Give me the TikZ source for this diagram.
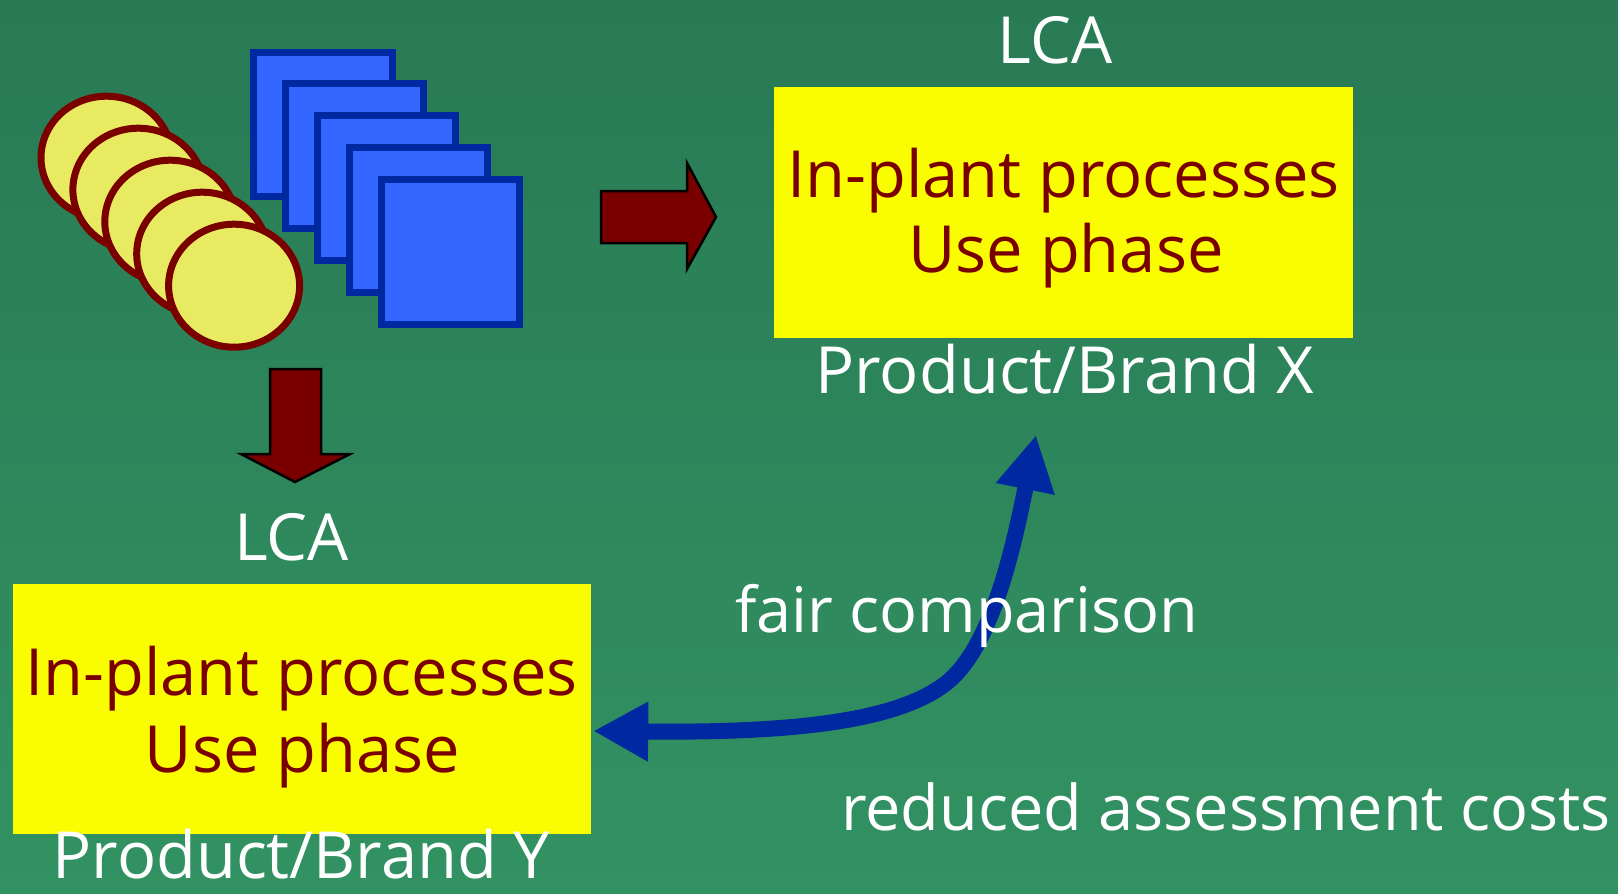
\documentclass[tikz,border=0pt]{standalone}
\usepackage{fontspec}
\setmainfont{Open Sans}
\usetikzlibrary{arrows.meta,calc}
\definecolor{bgtop}{RGB}{40,122,84}
\definecolor{bgbot}{RGB}{50,146,98}
\definecolor{boxyellow}{RGB}{250,252,0}
\definecolor{darkred}{RGB}{122,0,0}
\definecolor{coinfill}{RGB}{232,234,98}
\definecolor{cardfill}{RGB}{51,102,255}
\definecolor{carddraw}{RGB}{0,40,160}
\definecolor{linkblue}{RGB}{0,40,160}
\begin{document}
\begin{tikzpicture}[x=1pt,y=-1pt,
  txt/.style={text=white, inner sep=0pt, font=\fontsize{65}{76}\selectfont},
  boxtxt/.style={text=darkred, inner sep=0pt, anchor=base, font=\fontsize{65}{76}\selectfont},
  ybox/.style={fill=boxyellow, draw=none, inner sep=0pt},
  coin/.style={fill=coinfill, draw=darkred, line width=7pt},
  card/.style={fill=cardfill, draw=carddraw, line width=7pt, line join=miter},
  blockarrow/.style={fill=darkred, draw=black, line width=2.5pt, line join=miter},
  link/.style={draw=linkblue, line width=16pt,
    {Triangle[length=55pt,width=56pt]}-{Triangle[length=55pt,width=56pt]}}]

% background
\useasboundingbox (0,0) rectangle (1618,894);
\shade[top color=bgtop, bottom color=bgbot] (0,0) rectangle (1618,894);

% stack of coins
\foreach \i in {0,...,4}
  \draw[coin] (106.5+31.9*\i, 157.7+32*\i) ellipse [x radius=65.5pt, y radius=61.5pt];

% stack of cards
\foreach \i in {0,...,4}
  \draw[card] (253.5+31.9*\i, 52+31.9*\i) rectangle (392+31.9*\i, 196.5+31.9*\i);

% block arrows
\draw[blockarrow] (601,191) -- (687,191) -- (687,163) -- (716,217) -- (687,269)
  -- (687,243) -- (601,243) -- cycle;
\draw[blockarrow] (270,369) -- (321,369) -- (321,454) -- (350,454) -- (295,482)
  -- (241,454) -- (270,454) -- cycle;

% assessment boxes
\node[ybox, minimum width=579pt, minimum height=251pt] (boxX) at (1063.5,212.5) {};
\node[ybox, minimum width=578pt, minimum height=250pt] (boxY) at (301.5,709) {};

% labels, brand X
\node[txt, anchor=base] (lcaX) at (1055,63) {LCA};
\node[boxtxt] (inX) at (1063.5,197) {In-plant processes};
\node[boxtxt] (useX) at (1066,272) {Use phase};
\node[txt, anchor=base] (prodX) at (1065,393) {Product/Brand X};

% labels, brand Y
\node[txt, anchor=base] (lcaY) at (291.6,560) {LCA};
\node[boxtxt] (inY) at (301.5,695) {In-plant processes};
\node[boxtxt] (useY) at (302.5,772) {Use phase};
\node[txt, anchor=base] (prodY) at (301.5,878) {Product/Brand Y};

% comparison link
\coordinate (fairtip) at (1036,435);
\draw[link] ([xshift=2.5pt,yshift=-22pt]boxY.east) .. controls (790,733) and (895,722) .. (945,684)
  .. controls (990,650) and (1012,555) .. (fairtip);

\node[txt, anchor=base west, font=\fontsize{63}{74}\selectfont] (fair) at (735,632) {fair comparison};
\node[txt, anchor=base east, font=\fontsize{63}{74}\selectfont] (cost) at (1611,830) {reduced assessment costs};
\end{tikzpicture}
\end{document}
